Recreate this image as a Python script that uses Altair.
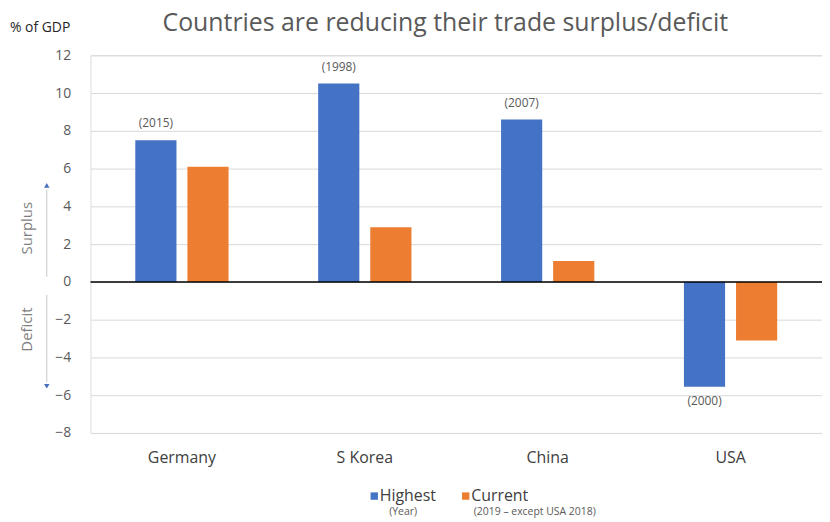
import altair as alt
import pandas as pd

countries = ["Germany", "S Korea", "China", "USA"]
highest = [7.5, 10.5, 8.6, -5.55]
current = [6.1, 2.9, 1.1, -3.1]
years = ["(2015)", "(1998)", "(2007)", "(2000)"]
series = ["Highest", "Current"]
colors = ["#4472C4", "#ED7D31"]
y_ticks = [-8, -6, -4, -2, 0, 2, 4, 6, 8, 10, 12]

FONT = "Open Sans"
GREY = "#595959"

rows = []
for c, h, cu, yr in zip(countries, highest, current, years):
    rows.append({"country": c, "series": "Highest", "value": h, "year": yr})
    rows.append({"country": c, "series": "Current", "value": cu, "year": ""})
df = pd.DataFrame(rows)

x_enc = alt.X("country:N", sort=countries,
              scale=alt.Scale(paddingInner=0.49, paddingOuter=0.245),
              axis=alt.Axis(title=None, domain=False, ticks=False, tickSize=0,
                            labelAngle=0, labelPadding=17, labelFontSize=16,
                            labelColor="#404040", labelFont=FONT))
xo_enc = alt.XOffset("series:N", sort=series,
                     scale=alt.Scale(paddingInner=0.21, paddingOuter=0))
y_enc = alt.Y("value:Q", scale=alt.Scale(domain=[-8, 12], nice=False, zero=False),
              axis=alt.Axis(title=None, values=y_ticks, domain=False, ticks=False,
                            tickSize=0, labelPadding=20, labelFontSize=14,
                            labelColor=GREY, labelFont=FONT, gridColor="#d9d9d9",
                            gridWidth=1, labelOverlap=False))

bars = alt.Chart(df).mark_bar().encode(
    x=x_enc, xOffset=xo_enc, y=y_enc,
    color=alt.Color("series:N", sort=series,
                    scale=alt.Scale(domain=series, range=colors), legend=None),
)

pos_labels = alt.Chart(df).transform_filter(
    "datum.year != '' && datum.value > 0").mark_text(
    baseline="bottom", dy=-10, fontSize=12, color=GREY, font=FONT).encode(
    x=x_enc, xOffset=xo_enc, y=y_enc, text="year:N")

neg_labels = alt.Chart(df).transform_filter(
    "datum.year != '' && datum.value < 0").mark_text(
    baseline="top", dy=9, fontSize=12, color=GREY, font=FONT).encode(
    x=x_enc, xOffset=xo_enc, y=y_enc, text="year:N")

zero = alt.Chart(pd.DataFrame({"value": [0]})).mark_rule(
    color="black", strokeWidth=1.5).encode(y=y_enc)

base = alt.Chart(pd.DataFrame({"a": [0]}))

# Surplus / Deficit annotations (pixel positions in the plot area)
surplus_line = base.mark_rule(color="#c9c9c9", strokeWidth=1).encode(
    x=alt.value(-44), y=alt.value(135), y2=alt.value(223))
deficit_line = base.mark_rule(color="#c9c9c9", strokeWidth=1).encode(
    x=alt.value(-44), y=alt.value(241), y2=alt.value(329))
up_arrow = base.mark_point(shape="triangle-up", filled=True, color="#4a6fbf",
                           size=30, opacity=1).encode(x=alt.value(-44), y=alt.value(131))
down_arrow = base.mark_point(shape="triangle-down", filled=True, color="#4a6fbf",
                             size=30, opacity=1).encode(x=alt.value(-44), y=alt.value(333))
surplus_txt = base.mark_text(angle=270, fontSize=15, color="#7f7f7f", font=FONT).encode(
    x=alt.value(-64), y=alt.value(174), text=alt.value("Surplus"))
deficit_txt = base.mark_text(angle=270, fontSize=15, color="#7f7f7f", font=FONT).encode(
    x=alt.value(-64), y=alt.value(276), text=alt.value("Deficit"))

title = base.mark_text(fontSize=25, color=GREY, font=FONT, baseline="alphabetic").encode(
    x=alt.value(357), y=alt.value(-24),
    text=alt.value("Countries are reducing their trade surplus/deficit"))
unit = base.mark_text(fontSize=14, color="#262626", font=FONT, align="left").encode(
    x=alt.value(-81), y=alt.value(-27), text=alt.value("% of GDP"))

# Legend
leg_sq1 = base.mark_square(color=colors[0], size=55, opacity=1).encode(
    x=alt.value(285.5), y=alt.value(443.5))
leg_sq2 = base.mark_square(color=colors[1], size=55, opacity=1).encode(
    x=alt.value(377.5), y=alt.value(443.5))
leg_t1 = base.mark_text(fontSize=16, color="#404040", font=FONT, align="left",
                        baseline="alphabetic").encode(
    x=alt.value(291), y=alt.value(448), text=alt.value(series[0]))
leg_t2 = base.mark_text(fontSize=16, color="#404040", font=FONT, align="left",
                        baseline="alphabetic").encode(
    x=alt.value(383), y=alt.value(448), text=alt.value(series[1]))
leg_s1 = base.mark_text(fontSize=10.5, color=GREY, font=FONT).encode(
    x=alt.value(314.5), y=alt.value(460), text=alt.value("(Year)"))
leg_s2 = base.mark_text(fontSize=10.5, color=GREY, font=FONT).encode(
    x=alt.value(447), y=alt.value(460), text=alt.value("(2019 – except USA 2018)"))

chart = alt.layer(
    bars, zero, pos_labels, neg_labels,
    surplus_line, deficit_line, up_arrow, down_arrow, surplus_txt, deficit_txt,
    title, unit, leg_sq1, leg_sq2, leg_t1, leg_t2, leg_s1, leg_s2,
).properties(
    width=736, height=380,
    autosize=alt.AutoSizeParams(type="none"),
    padding={"left": 83, "top": 46, "right": 0, "bottom": 86},
).configure_view(stroke=None).configure(background="white")

chart.save("out.html", embed_options={"renderer": "svg", "actions": False})
